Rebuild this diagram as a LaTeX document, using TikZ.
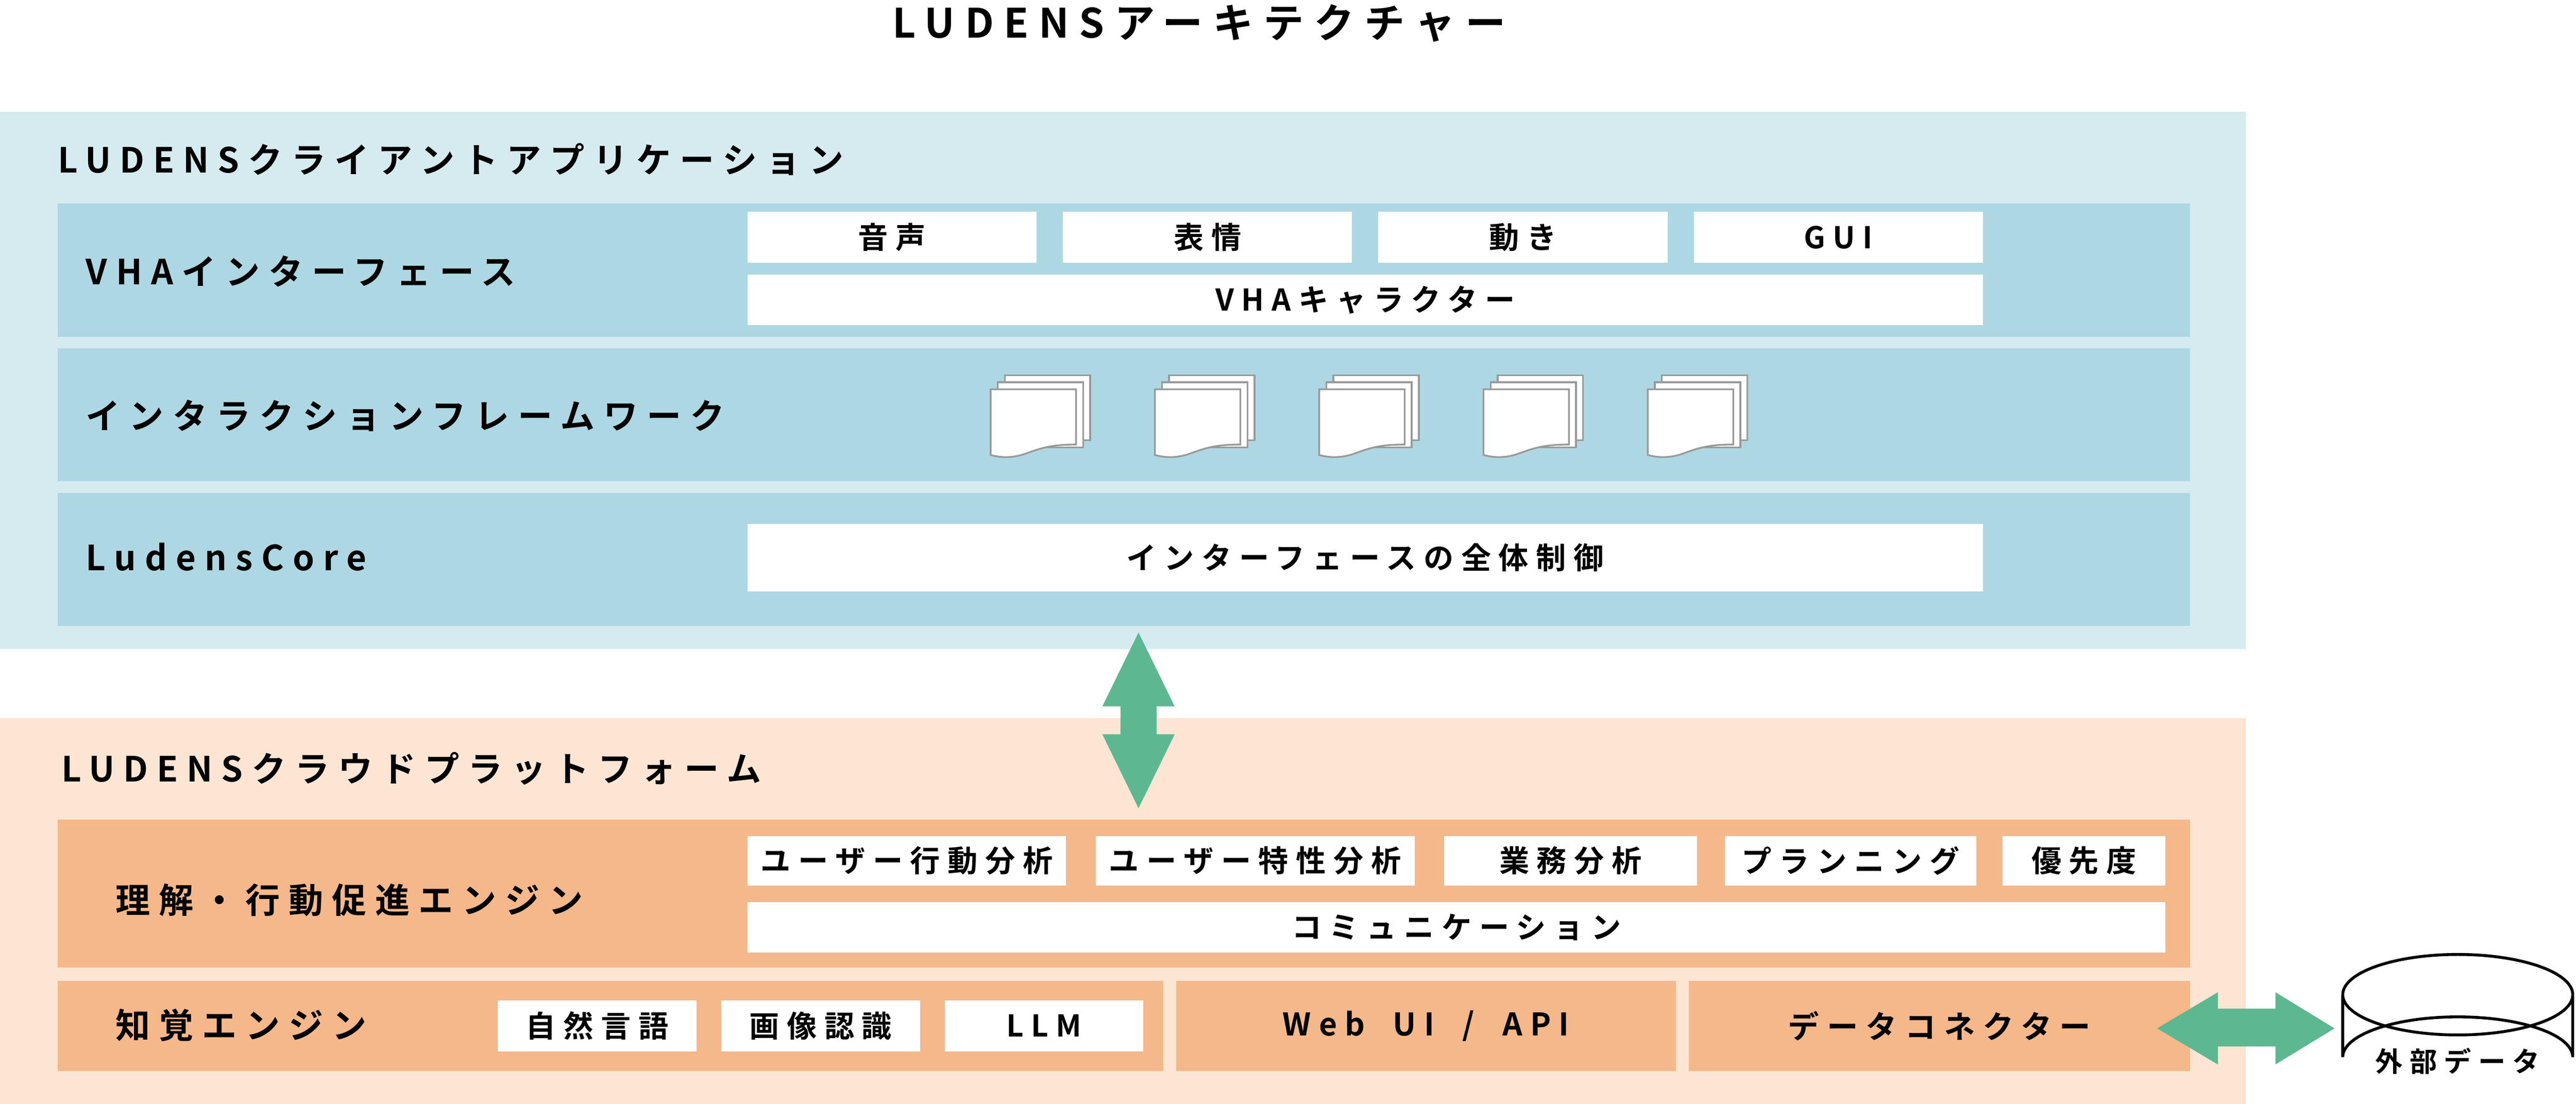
\documentclass[tikz,border=0pt]{standalone}
\usepackage{fontspec}
\setmainfont{Noto Sans CJK JP}[BoldFont={* Bold},LetterSpace=25]
\newfontfamily\jpb{Noto Sans CJK JP Bold}[LetterSpace=25]
\begin{document}
\begin{tikzpicture}[x=0.02cm,y=-0.02cm,
  lbl/.style={anchor=west,font=\jpb\fontsize{12}{13}\selectfont,inner sep=0},
  wb/.style={fill=white,draw=none,font=\jpb\fontsize{10.4}{11}\selectfont,inner sep=0},
  ob/.style={fill=orng,draw=none,font=\jpb\fontsize{10.8}{11}\selectfont,inner sep=0},
  page/.style={fill=white,draw=gray!80,line width=0.6pt},
  garrow/.style={fill=grn,draw=none}]
\definecolor{lblue}{HTML}{D5EBF0}
\definecolor{mblue}{HTML}{ADD8E3}
\definecolor{lorng}{HTML}{FCE5D3}
\definecolor{orng}{HTML}{F5B88A}
\definecolor{grn}{HTML}{5DB891}
\useasboundingbox (0,0) rectangle (1568,672);
\fill[white] (0,0) rectangle (1568,672);
\node[font=\jpb\fontsize{14}{15}\selectfont,inner sep=0] (title) at (730,14) {LUDENSアーキテクチャー};
% top panel
\fill[lblue] (0,68) rectangle (1367,395);
\node[lbl] (tl) at (35,97) {LUDENSクライアントアプリケーション};
\fill[mblue] (35,124) rectangle (1333,205);
\fill[mblue] (35,212) rectangle (1333,293);
\fill[mblue] (35,300) rectangle (1333,381);
\node[lbl] (r1) at (52,165) {VHAインターフェース};
\node[lbl] (r2) at (52,253) {インタラクションフレームワーク};
\node[lbl] (r3) at (52,339) {LudensCore};
\node[wb,minimum width=3.52cm,minimum height=0.62cm] (b1) at (543,144.5) {音声};
\node[wb,minimum width=3.52cm,minimum height=0.62cm] (b2) at (735,144.5) {表情};
\node[wb,minimum width=3.52cm,minimum height=0.62cm] (b3) at (927,144.5) {動き};
\node[wb,minimum width=3.52cm,minimum height=0.62cm] (b4) at (1119,144.5) {GUI};
\node[wb,minimum width=15.04cm,minimum height=0.62cm] (vc) at (831,182.5) {VHAキャラクター};
\node[wb,minimum width=15.04cm,minimum height=0.82cm] (ic) at (831,339.5) {インターフェースの全体制御};
\foreach \i in {0,...,4}{
  \begin{scope}[shift={(603+100*\i,237)}]
    \draw[page] (8.6,-8.6) rectangle (60.6,31);
    \draw[page] (4.3,-4.3) rectangle (56.3,35.3);
    \draw[page] (0,0) -- (52,0) -- (52,33.6) .. controls (36,33.6) and (30,36) .. (20,39.6) .. controls (12,42) and (6,41.5) .. (0,40) -- cycle;
  \end{scope}}
% bottom panel
\fill[lorng] (0,437) rectangle (1367,672);
\node[lbl] (bl) at (37,468) {LUDENSクラウドプラットフォーム};
\fill[orng] (35,499) rectangle (1333,589);
\fill[orng] (35,597) rectangle (708,652);
\node[lbl] (ra) at (70,548) {理解・行動促進エンジン};
\node[lbl] (rb) at (70,624) {知覚エンジン};
\node[wb,minimum width=3.88cm,minimum height=0.6cm] (c1) at (552,524) {ユーザー行動分析};
\node[wb,minimum width=3.88cm,minimum height=0.6cm] (c2) at (764,524) {ユーザー特性分析};
\node[wb,minimum width=3.08cm,minimum height=0.6cm] (c3) at (956,524) {業務分析};
\node[wb,minimum width=3.06cm,minimum height=0.6cm] (c4) at (1126.5,524) {プランニング};
\node[wb,minimum width=1.98cm,minimum height=0.6cm] (c5) at (1268.5,524) {優先度};
\node[wb,minimum width=17.26cm,minimum height=0.62cm] (cm) at (886.5,564.5) {コミュニケーション};
\node[wb,minimum width=2.42cm,minimum height=0.62cm] (d1) at (363.5,624.5) {自然言語};
\node[wb,minimum width=2.42cm,minimum height=0.62cm] (d2) at (499.5,624.5) {画像認識};
\node[wb,minimum width=2.42cm,minimum height=0.62cm] (d3) at (635.5,624.5) {LLM};
\node[ob,minimum width=6.08cm,minimum height=1.1cm] (web) at (868,624.5) {Web\hspace{0.9em}UI\hspace{0.9em}/\hspace{0.9em}API};
\node[ob,minimum width=6.1cm,minimum height=1.1cm] (dc) at (1180.5,624.5) {データコネクター};
% arrows
\fill[garrow] (693,385) -- (715,430) -- (704,430) -- (704,447) -- (715,447) -- (693,492) -- (671,447) -- (682,447) -- (682,430) -- (671,430) -- cycle;
\fill[garrow] (1313,626) -- (1350,604) -- (1350,614) -- (1385,614) -- (1385,604) -- (1421,626) -- (1385,648) -- (1385,637) -- (1350,637) -- (1350,648) -- cycle;
% cylinder
\draw[line width=1pt,fill=white] (1426,605.5) -- (1426,643.5) arc[start angle=180,end angle=360,x radius=70,y radius=24.5] -- (1566,605.5) arc[start angle=0,end angle=180,x radius=70,y radius=24.5];
\draw[line width=1pt] (1426,605.5) arc[start angle=180,end angle=360,x radius=70,y radius=24.5];
\node[font=\jpb\fontsize{9.5}{10}\selectfont,inner sep=0] (ext) at (1496,646) {外部データ};
\end{tikzpicture}
\end{document}
